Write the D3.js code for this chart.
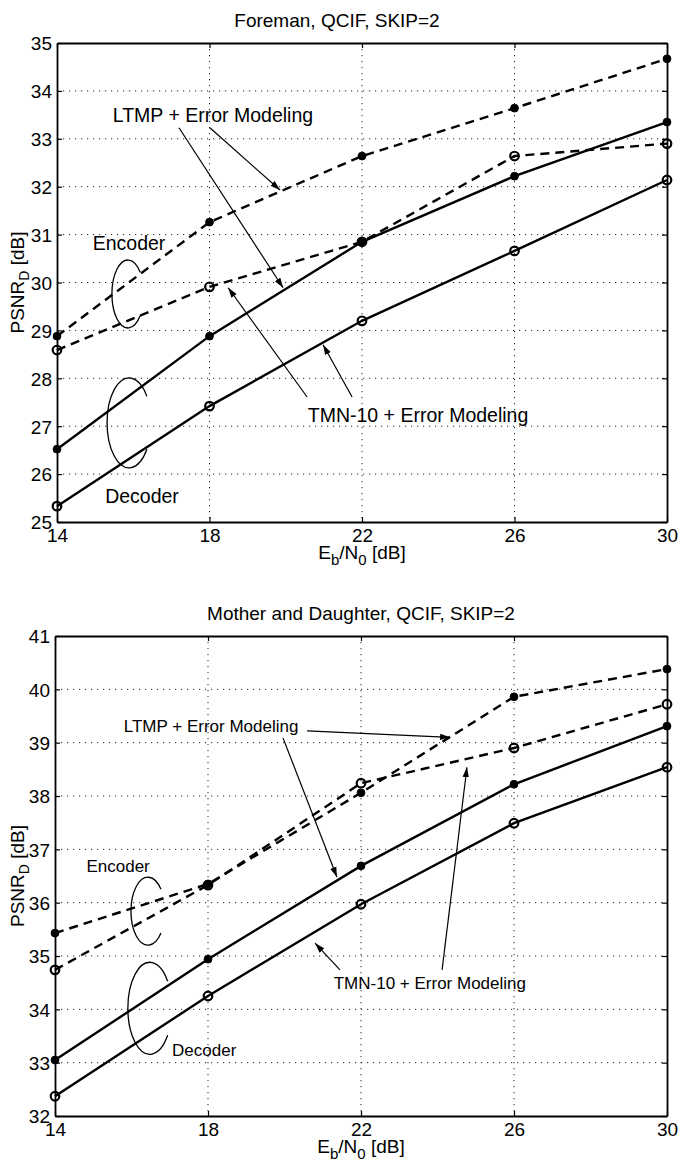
<!DOCTYPE html>
<html>
<head>
<meta charset="utf-8">
<script src="https://cdn.jsdelivr.net/npm/d3@7"></script>
<style>
  body { margin: 0; background: #fff; }
  svg text { font-family: 'Liberation Sans', Arial, sans-serif; fill: #000; }
</style>
</head>
<body>
<svg id="chart"></svg>
<script>
var width = 679
var height = 1161
var fontSize = 19

// Eb/N0 [dB]
var ebn0 = [14, 18, 22, 26, 30]
var xTicks = [14, 18, 22, 26, 30]

// Foreman, QCIF, SKIP=2 : PSNR_D [dB]
var foremanLtmpEnc = [28.88, 31.26, 32.64, 33.64, 34.67]
var foremanTmnEnc = [28.59, 29.91, 30.85, 32.64, 32.9]
var foremanLtmpDec = [26.52, 28.88, 30.85, 32.22, 33.35]
var foremanTmnDec = [25.33, 27.42, 29.2, 30.66, 32.14]
var foremanYTicks = [25, 26, 27, 28, 29, 30, 31, 32, 33, 34, 35]

// Mother and Daughter, QCIF, SKIP=2 : PSNR_D [dB]
var motherLtmpEnc = [35.43, 36.35, 38.06, 39.86, 40.38]
var motherTmnEnc = [34.74, 36.33, 38.24, 38.9, 39.72]
var motherLtmpDec = [33.05, 34.94, 36.69, 38.22, 39.31]
var motherTmnDec = [32.37, 34.25, 35.97, 37.49, 38.54]
var motherYTicks = [32, 33, 34, 35, 36, 37, 38, 39, 40, 41]

// annotation anchors, in data units [Eb/N0, PSNR]
var foremanLabels = [
    { text: 'LTMP + Error Modeling', at: [18.09, 33.35] },
    { text: 'TMN-10 + Error Modeling', at: [23.47, 27.09] },
    { text: 'Encoder', at: [15.89, 30.68] },
    { text: 'Decoder', at: [16.23, 25.4] }
]
var foremanArrows = [
    [[17.2, 33.23], [19.93, 29.89]],
    [[18.01, 33.23], [19.85, 31.93]],
    [[20.56, 27.61], [18.49, 29.89]],
    [[21.74, 27.61], [20.98, 28.7]]
]
var foremanLoops = [[15.86, 29.76], [15.89, 27.07]]

var motherLabels = [
    { text: 'LTMP + Error Modeling', at: [18.08, 39.2] },
    { text: 'TMN-10 + Error Modeling', at: [23.8, 34.38] },
    { text: 'Encoder', at: [15.65, 36.57] },
    { text: 'Decoder', at: [17.9, 33.12] }
]
var motherArrows = [
    [[20.59, 39.22], [24.33, 39.1]],
    [[19.96, 39.09], [21.37, 36.48]],
    [[21.45, 34.74], [20.8, 35.24]],
    [[24.12, 34.74], [24.77, 38.54]]
]
var motherLoops = [[16.43, 35.84], [16.48, 34.02]]

var svg = d3.select('#chart')
    .attr('width', width)
    .attr('height', height)

svg.append('defs').append('marker')
    .attr('id', 'arrowHead')
    .attr('markerUnits', 'userSpaceOnUse')
    .attr('viewBox', '0 0 10 8')
    .attr('refX', 10)
    .attr('refY', 4)
    .attr('markerWidth', 10)
    .attr('markerHeight', 8)
    .attr('orient', 'auto')
    .append('path')
    .attr('d', 'M0,0.8 L10,4 L0,7.2 Z')
    .attr('fill', '#000')

function drawPanel(cfg) {
    var x = d3.scaleLinear().domain([14, 30]).range([cfg.left, cfg.right])
    var y = d3.scaleLinear().domain(cfg.yDomain).range([cfg.bottom, cfg.top])
    var g = svg.append('g')

    // dotted grid
    g.append('g').selectAll('line')
        .data(xTicks.slice(1, -1))
        .enter().append('line')
        .attr('x1', function (d) { return x(d) }).attr('x2', function (d) { return x(d) })
        .attr('y1', cfg.top).attr('y2', cfg.bottom)
        .attr('stroke', '#222').attr('stroke-width', 1).attr('stroke-dasharray', '1.2,4.8')
    g.append('g').selectAll('line')
        .data(cfg.yTicks.slice(1, -1))
        .enter().append('line')
        .attr('x1', cfg.left).attr('x2', cfg.right)
        .attr('y1', function (d) { return y(d) }).attr('y2', function (d) { return y(d) })
        .attr('stroke', '#222').attr('stroke-width', 1).attr('stroke-dasharray', '1.2,4.8')

    // axes (matlab style, inward ticks on all sides)
    var tickLen = 5
    var bottomAxis = d3.axisBottom(x).tickValues(xTicks).tickSizeInner(-tickLen).tickSizeOuter(0).tickPadding(10)
    var topAxis = d3.axisTop(x).tickValues(xTicks).tickSizeInner(-tickLen).tickSizeOuter(0).tickFormat('')
    var leftAxis = d3.axisLeft(y).tickValues(cfg.yTicks).tickSizeInner(-tickLen).tickSizeOuter(0).tickPadding(5)
    var rightAxis = d3.axisRight(y).tickValues(cfg.yTicks).tickSizeInner(-tickLen).tickSizeOuter(0).tickFormat('')

    var axes = [
        g.append('g').attr('transform', 'translate(0,' + cfg.bottom + ')').call(bottomAxis),
        g.append('g').attr('transform', 'translate(0,' + cfg.top + ')').call(topAxis),
        g.append('g').attr('transform', 'translate(' + cfg.left + ',0)').call(leftAxis),
        g.append('g').attr('transform', 'translate(' + cfg.right + ',0)').call(rightAxis)
    ]
    axes.forEach(function (a) {
        a.selectAll('.domain').attr('stroke', '#000').attr('stroke-width', 1.8)
        a.selectAll('.tick line').attr('stroke', '#000').attr('stroke-width', 1.2)
        a.selectAll('.tick text').attr('font-size', fontSize).attr('font-family', 'Liberation Sans, Arial, sans-serif')
    })
    axes[0].selectAll('.tick text').attr('dy', '0.5em')
    axes[2].selectAll('.tick text').attr('dy', '0.36em')

    // series
    var series = [
        { values: cfg.ltmpEnc, dashed: true, filled: true },
        { values: cfg.tmnEnc, dashed: true, filled: false },
        { values: cfg.ltmpDec, dashed: false, filled: true },
        { values: cfg.tmnDec, dashed: false, filled: false }
    ]
    var line = d3.line()
        .x(function (d, i) { return x(ebn0[i]) })
        .y(function (d) { return y(d) })
    series.forEach(function (s) {
        g.append('path')
            .attr('d', line(s.values))
            .attr('fill', 'none')
            .attr('stroke', '#000')
            .attr('stroke-width', 2.4)
            .attr('stroke-dasharray', s.dashed ? '9,6' : null)
        g.append('g').selectAll('circle')
            .data(s.values)
            .enter().append('circle')
            .attr('cx', function (d, i) { return x(ebn0[i]) })
            .attr('cy', function (d) { return y(d) })
            .attr('r', s.filled ? 3.9 : 4.3)
            .attr('fill', s.filled ? '#000' : 'none')
            .attr('stroke', '#000')
            .attr('stroke-width', s.filled ? 1 : 2.2)
    })

    // annotations
    cfg.arrows.forEach(function (a) {
        g.append('line')
            .attr('x1', x(a[0][0])).attr('y1', y(a[0][1]))
            .attr('x2', x(a[1][0])).attr('y2', y(a[1][1]))
            .attr('stroke', '#000').attr('stroke-width', 1.2)
            .attr('marker-end', 'url(#arrowHead)')
    })
    cfg.loops.forEach(function (c, i) {
        var r = cfg.loopRadii[i]
        var cx = x(c[0]), cy = y(c[1])
        var a = r[2] * Math.PI / 180
        var x0 = cx + r[0] * Math.cos(a)
        var ya = cy - r[1] * Math.sin(a), yb = cy + r[1] * Math.sin(a)
        g.append('path')
            .attr('d', 'M' + x0 + ',' + ya + ' A' + r[0] + ',' + r[1] + ' 0 1 0 ' + x0 + ',' + yb)
            .attr('fill', 'none').attr('stroke', '#000').attr('stroke-width', 1.3)
    })
    g.selectAll('.annot')
        .data(cfg.labels)
        .enter().append('text')
        .attr('class', 'annot')
        .attr('x', function (d) { return x(d.at[0]) })
        .attr('y', function (d) { return y(d.at[1]) })
        .attr('text-anchor', 'middle')
        .attr('font-size', cfg.labelSize)
        .text(function (d) { return d.text })

    // titles and axis labels
    g.append('text')
        .attr('x', cfg.titleX).attr('y', cfg.top - 16)
        .attr('text-anchor', 'middle').attr('font-size', fontSize)
        .text(cfg.title)

    var xl = g.append('text')
        .attr('x', (cfg.left + cfg.right) / 2).attr('y', cfg.bottom + 37)
        .attr('text-anchor', 'middle').attr('font-size', fontSize)
    xl.append('tspan').text('E')
    xl.append('tspan').attr('dy', 6).attr('font-size', 15).text('b')
    xl.append('tspan').attr('dy', -6).text('/N')
    xl.append('tspan').attr('dy', 6).attr('font-size', 15).text('0')
    xl.append('tspan').attr('dy', -6).text(' [dB]')

    var yl = g.append('text')
        .attr('transform', 'translate(24,' + (cfg.top + cfg.bottom) / 2 + ') rotate(-90)')
        .attr('text-anchor', 'middle').attr('font-size', fontSize)
    yl.append('tspan').text('PSNR')
    yl.append('tspan').attr('dy', 5).attr('font-size', 14).text('D')
    yl.append('tspan').attr('dy', -5).text(' [dB]')
}

drawPanel({
    left: 57, right: 667, top: 43, bottom: 522,
    yDomain: [25, 35], yTicks: foremanYTicks,
    ltmpEnc: foremanLtmpEnc, tmnEnc: foremanTmnEnc, ltmpDec: foremanLtmpDec, tmnDec: foremanTmnDec,
    labels: foremanLabels, arrows: foremanArrows, loops: foremanLoops,
    loopRadii: [[16, 34, 40], [22, 45, 36]],
    labelSize: 19.5,
    title: 'Foreman, QCIF, SKIP=2', titleX: 337
})

drawPanel({
    left: 55, right: 667, top: 636, bottom: 1116,
    yDomain: [32, 41], yTicks: motherYTicks,
    ltmpEnc: motherLtmpEnc, tmnEnc: motherTmnEnc, ltmpDec: motherLtmpDec, tmnDec: motherTmnDec,
    labels: motherLabels, arrows: motherArrows, loops: motherLoops,
    loopRadii: [[17, 34, 40], [22, 46, 36]],
    labelSize: 17,
    title: 'Mother and Daughter, QCIF, SKIP=2', titleX: 361
})
</script>
</body>
</html>
